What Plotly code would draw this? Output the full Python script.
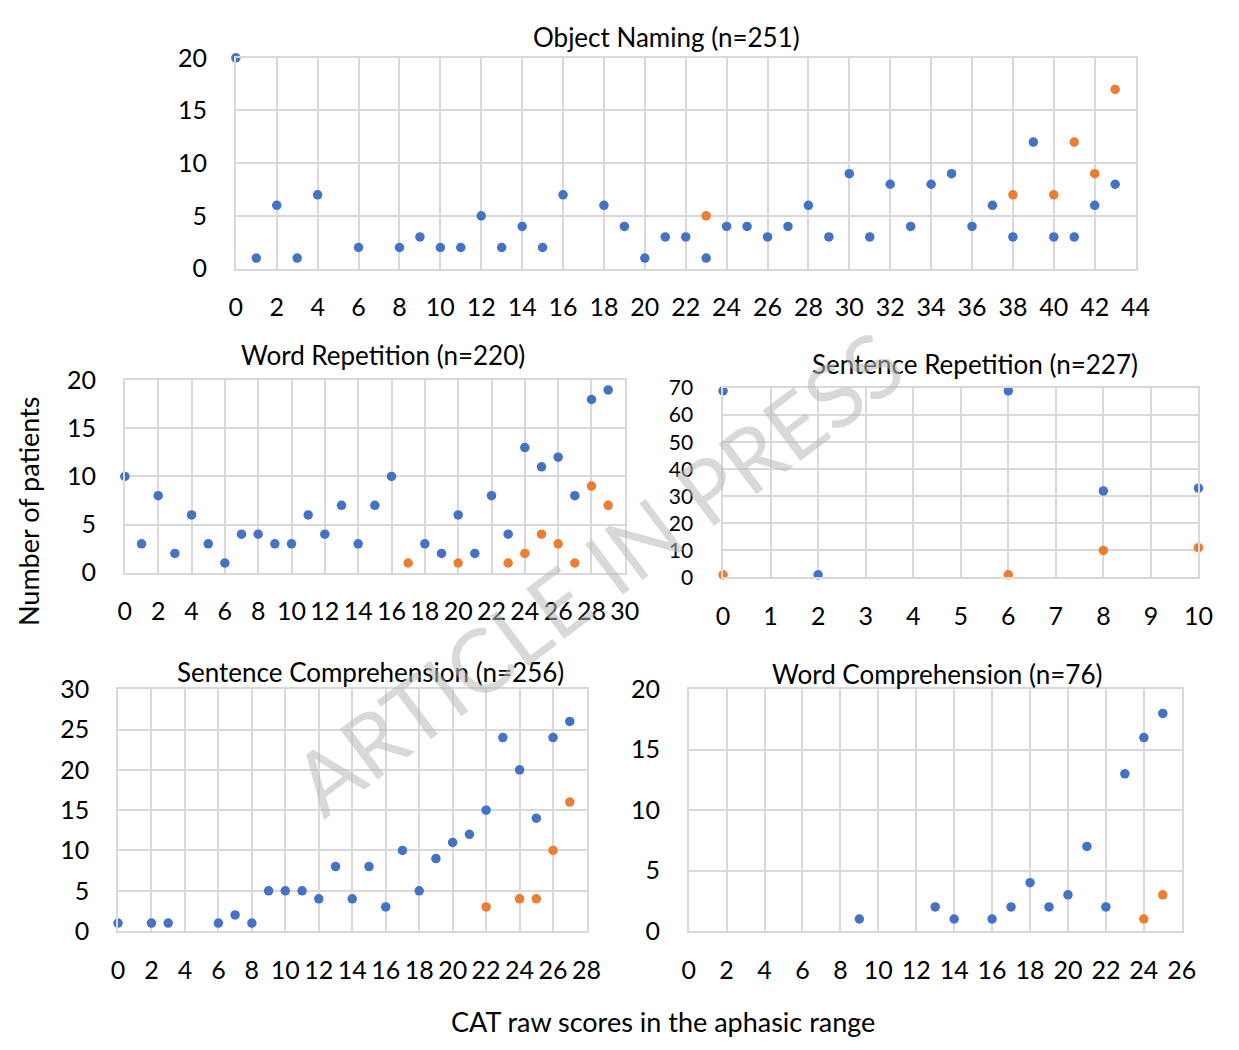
import plotly.graph_objects as go

W, H = 1239, 1050
FONT = "Lato"
BLUE = "#4472C4"
ORANGE = "#ED7D31"
GRID = "#D9D9D9"

# ---------------- data ----------------
# Object Naming (n=251)
on_blue_x = [0, 1, 2, 3, 4, 6, 8, 9, 10, 11, 12, 13, 14, 15, 16, 18, 19, 20, 21, 22, 23, 24, 25, 26, 27,
             28, 29, 30, 31, 32, 33, 34, 35, 36, 37, 38, 39, 40, 41, 42, 43]
on_blue_y = [20, 1, 6, 1, 7, 2, 2, 3, 2, 2, 5, 2, 4, 2, 7, 6, 4, 1, 3, 3, 1, 4, 4, 3, 4,
             6, 3, 9, 3, 8, 4, 8, 9, 4, 6, 3, 12, 3, 3, 6, 8]
on_orange_x = [23, 38, 40, 41, 42, 43]
on_orange_y = [5, 7, 7, 12, 9, 17]

# Word Repetition (n=220)
wr_blue_x = [0, 1, 2, 3, 4, 5, 6, 7, 8, 9, 10, 11, 12, 13, 14, 15, 16, 18, 19, 20, 21, 22, 23, 24, 25,
             26, 27, 28, 29]
wr_blue_y = [10, 3, 8, 2, 6, 3, 1, 4, 4, 3, 3, 6, 4, 7, 3, 7, 10, 3, 2, 6, 2, 8, 4, 13, 11,
             12, 8, 18, 19]
wr_orange_x = [17, 20, 23, 24, 25, 26, 27, 28, 29]
wr_orange_y = [1, 1, 1, 2, 4, 3, 1, 9, 7]

# Sentence Repetition (n=227)
sr_blue_x = [0, 2, 6, 8, 10]
sr_blue_y = [69, 1, 69, 32, 33]
sr_orange_x = [0, 6, 8, 10]
sr_orange_y = [1, 1, 10, 11]

# Sentence Comprehension (n=256)
sc_blue_x = [0, 2, 3, 6, 7, 8, 9, 10, 11, 12, 13, 14, 15, 16, 17, 18, 19, 20, 21, 22, 23, 24, 25, 26, 27]
sc_blue_y = [1, 1, 1, 1, 2, 1, 5, 5, 5, 4, 8, 4, 8, 3, 10, 5, 9, 11, 12, 15, 24, 20, 14, 24, 26]
sc_orange_x = [22, 24, 25, 26, 27]
sc_orange_y = [3, 4, 4, 10, 16]

# Word Comprehension (n=76)
wc_blue_x = [9, 13, 14, 16, 17, 18, 19, 20, 21, 22, 23, 24, 25]
wc_blue_y = [1, 2, 1, 1, 2, 4, 2, 3, 7, 2, 13, 16, 18]
wc_orange_x = [24, 25]
wc_orange_y = [1, 3]

titles = ["Object Naming (n=251)", "Word Repetition (n=220)", "Sentence Repetition (n=227)",
          "Sentence Comprehension (n=256)", "Word Comprehension (n=76)"]
y_title = "Number of patients"
x_title = "CAT raw scores in the aphasic range"
watermark = "ARTICLE IN PRESS"

# ---------------- layout helpers ----------------
def px(x):
    return x / W

def py(y):
    return 1 - y / H

# (left, right, top, bottom) in pixels, x range, x dtick, y range, y dtick, y tick size
panels = [
    dict(box=(233, 1149, 43, 260), xr=[0, 44], xd=2, yr=[0, 20], yd=5, yfs=25,
         data=(on_blue_x, on_blue_y, on_orange_x, on_orange_y), title_pos=(671, 22)),
    dict(box=(120, 629, 375, 573), xr=[0, 30], xd=2, yr=[0, 20], yd=5, yfs=25,
         data=(wr_blue_x, wr_blue_y, wr_orange_x, wr_orange_y), title_pos=(383, 349)),
    dict(box=(729, 1213, 383, 578), xr=[0, 10], xd=1, yr=[0, 70], yd=10, yfs=21,
         data=(sr_blue_x, sr_blue_y, sr_orange_x, sr_orange_y), title_pos=(985, 358)),
    dict(box=(113, 590, 693, 942), xr=[0, 28], xd=2, yr=[0, 30], yd=5, yfs=25,
         data=(sc_blue_x, sc_blue_y, sc_orange_x, sc_orange_y), title_pos=(370, 675)),
    dict(box=(694, 1196, 693, 942), xr=[0, 26], xd=2, yr=[0, 20], yd=5, yfs=25,
         data=(wc_blue_x, wc_blue_y, wc_orange_x, wc_orange_y), title_pos=(947, 677)),
]

fig = go.Figure()
annotations = []
layout_axes = {}
for i, p in enumerate(panels, start=1):
    l, r, t, b = p["box"]
    xa = "x" if i == 1 else f"x{i}"
    ya = "y" if i == 1 else f"y{i}"
    bx, by, ox, oy = p["data"]
    for xs, ys, col in ((bx, by, BLUE), (ox, oy, ORANGE)):
        fig.add_trace(go.Scatter(x=xs, y=ys, mode="markers", xaxis=xa, yaxis=ya,
                                 marker=dict(color=col, size=9.5), cliponaxis=False,
                                 showlegend=False, hoverinfo="x+y"))
    common = dict(showgrid=True, gridcolor=GRID, gridwidth=1.5, zeroline=False,
                  showline=True, linecolor=GRID, linewidth=1.5, mirror=True,
                  ticks="", fixedrange=True)
    layout_axes[("xaxis" if i == 1 else f"xaxis{i}")] = dict(
        common, domain=[px(l), px(r)], range=p["xr"], dtick=p["xd"], tick0=0,
        anchor=ya, ticklabelstandoff=16,
        tickfont=dict(family=FONT, size=25, color="black"))
    layout_axes[("yaxis" if i == 1 else f"yaxis{i}")] = dict(
        common, domain=[py(b), py(t)], range=p["yr"], dtick=p["yd"], tick0=0,
        anchor=xa, ticklabelstandoff=22 if p["yfs"] == 25 else 24,
        tickfont=dict(family=FONT, size=p["yfs"], color="black"))
    tx, ty = p["title_pos"]
    annotations.append(dict(text=titles[i - 1], x=px(tx), y=py(ty), xref="paper", yref="paper",
                            showarrow=False, xanchor="center", yanchor="middle",
                            font=dict(family=FONT, size=26, color="black")))

annotations.append(dict(text=y_title, x=px(22), y=py(510), xref="paper", yref="paper",
                        showarrow=False, textangle=-90, xanchor="center", yanchor="middle",
                        font=dict(family=FONT, size=27, color="black")))
annotations.append(dict(text=x_title, x=px(668), y=py(1035), xref="paper", yref="paper",
                        showarrow=False, xanchor="center", yanchor="middle",
                        font=dict(family=FONT, size=27, color="black")))
annotations.append(dict(text=watermark, x=px(600), y=py(572), xref="paper", yref="paper",
                        showarrow=False, textangle=-37, xanchor="center", yanchor="middle",
                        font=dict(family=FONT, size=88, color="rgba(185,185,185,0.55)")))

fig.update_layout(width=W, height=H, margin=dict(l=0, r=0, t=0, b=0),
                  paper_bgcolor="white", plot_bgcolor="white",
                  annotations=annotations, **layout_axes)

fig.write_html("out.html")
